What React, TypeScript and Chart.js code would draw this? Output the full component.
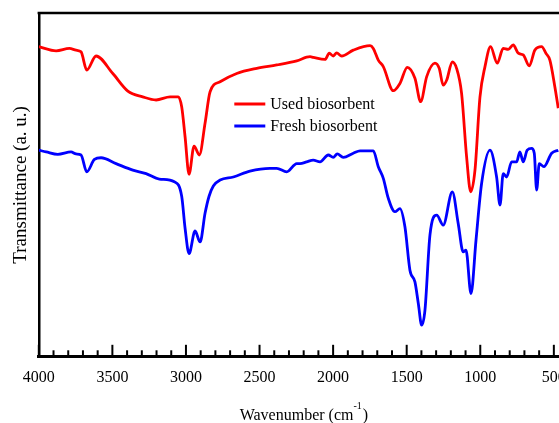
import { useEffect, useRef } from "react";
import { Chart, registerables } from "chart.js";

Chart.register(...registerables);

// FTIR spectrum of the used biosorbent (wavenumber in cm-1, transmittance in a. u.)
const usedWavenumber = [
  4000, 3882, 3792, 3747, 3713, 3674, 3611, 3497, 3395, 3294, 3203, 3108, 3052, 3029, 3006,
  2979, 2945, 2909, 2870, 2836, 2768, 2655, 2519, 2383, 2247, 2157, 2135, 2055, 2026, 1999,
  1976, 1942, 1863, 1749, 1727, 1693, 1659, 1591, 1546, 1496, 1444, 1405, 1364, 1308, 1279,
  1252, 1228, 1190, 1161, 1127, 1093, 1065, 1036, 1002, 968, 930, 885, 844, 810, 776,
  742, 708, 667, 629, 583, 554, 527, 493, 470,
];
const usedTransmittance = [
  90.2, 89.0, 89.7, 89.2, 88.7, 83.4, 87.5, 82.4, 77.3, 75.6, 74.7, 75.6, 75.6, 72.7, 64.0,
  53.1, 61.3, 58.7, 68.0, 77.1, 80.0, 82.4, 83.9, 84.9, 86.1, 87.3, 87.1, 86.5, 88.3, 87.5,
  88.4, 87.5, 89.2, 90.5, 89.7, 86.3, 84.4, 77.4, 79.5, 84.2, 81.0, 74.2, 81.5, 85.4, 83.9,
  79.0, 80.5, 85.8, 83.9, 76.6, 58.2, 48.0, 54.3, 75.6, 84.4, 90.2, 85.4, 89.7, 89.4, 90.7,
  88.3, 87.8, 84.6, 89.2, 90.2, 88.3, 86.3, 78.5, 72.3,
];

// FTIR spectrum of the fresh biosorbent
const freshWavenumber = [
  4000, 3950, 3871, 3781, 3747, 3713, 3674, 3622, 3577, 3475, 3361, 3271, 3181, 3079, 3029,
  3006, 2979, 2938, 2904, 2870, 2843, 2814, 2768, 2678, 2565, 2429, 2383, 2315, 2247, 2225,
  2180, 2135, 2089, 2033, 1999, 1972, 1931, 1863, 1817, 1727, 1693, 1659, 1625, 1580, 1546,
  1512, 1478, 1444, 1421, 1398, 1376, 1342, 1296, 1252, 1190, 1150, 1116, 1097, 1063, 1029,
  991, 934, 889, 866, 844, 821, 787, 753, 731, 708, 681, 651, 633, 617, 599,
  568, 515, 470,
];
const freshTransmittance = [
  60.1, 59.6, 58.9, 59.6, 59.0, 58.7, 53.8, 57.4, 57.9, 56.2, 54.3, 53.3, 51.7, 50.9, 46.7,
  37.4, 30.0, 36.6, 33.4, 41.8, 46.7, 49.7, 51.4, 52.3, 54.0, 54.8, 54.8, 53.8, 56.2, 56.2,
  56.7, 57.2, 56.7, 58.7, 58.0, 59.0, 58.0, 59.2, 59.9, 59.9, 55.3, 51.9, 46.1, 42.2, 43.1,
  37.8, 25.2, 21.8, 15.5, 9.2, 13.5, 35.4, 41.2, 38.3, 48.0, 38.8, 30.5, 31.0, 18.4, 33.9,
  50.4, 60.1, 52.3, 44.1, 53.3, 52.3, 56.7, 56.7, 59.6, 56.7, 60.1, 60.6, 59.2, 48.5, 56.2,
  55.3, 59.2, 60.1,
];

const seriesLabels = ["Used biosorbent", "Fresh biosorbent"];
const seriesColors = ["#ff0000", "#0000ff"];

const xAxisTitle = "Wavenumber (cm";
const xAxisTitleSup = "-1";
const yAxisTitle = "Transmittance (a. u.)";

const xMin = 465;
const xMax = 4000;
const minorStep = 100;
const majorStep = 500;

const SERIF = '"Liberation Serif", "Times New Roman", "DejaVu Serif", serif';

const toPoints = (xs: number[], ys: number[]) => xs.map((x, i) => ({ x, y: ys[i] }));

// Draws the top frame line, inward ticks, x-axis title with superscript and the legend.
const decorations = {
  id: "decorations",
  afterDraw(chart: any) {
    const { ctx, chartArea } = chart;
    const xs = chart.scales.x;
    ctx.save();
    ctx.strokeStyle = "#000";
    ctx.lineCap = "butt";

    // top frame line
    ctx.lineWidth = 2.7;
    ctx.beginPath();
    ctx.moveTo(chartArea.left - 1.2, chartArea.top);
    ctx.lineTo(chart.width, chartArea.top);
    ctx.stroke();

    // inward tick marks on the bottom axis
    ctx.lineWidth = 2;
    for (const t of xs.ticks) {
      const v = Math.round(t.value);
      if (v % minorStep !== 0) continue;
      const px = xs.getPixelForValue(v);
      const len = v % majorStep === 0 ? 12 : 6.5;
      ctx.beginPath();
      ctx.moveTo(px, chartArea.bottom);
      ctx.lineTo(px, chartArea.bottom - len);
      ctx.stroke();
    }

    // x-axis title with superscript
    ctx.fillStyle = "#000";
    ctx.textBaseline = "alphabetic";
    ctx.textAlign = "left";
    const mainFont = `16px ${SERIF}`;
    const supFont = `10px ${SERIF}`;
    ctx.font = mainFont;
    const w1 = ctx.measureText(xAxisTitle).width;
    const w3 = ctx.measureText(")").width;
    ctx.font = supFont;
    const w2 = ctx.measureText(xAxisTitleSup).width;
    const total = w1 + w2 + w3 + 1;
    const cx = (chartArea.left + chartArea.right) / 2 + 5;
    const baseY = chart.height - 3;
    let tx = cx - total / 2;
    ctx.font = mainFont;
    ctx.fillText(xAxisTitle, tx, baseY);
    tx += w1;
    ctx.font = supFont;
    ctx.fillText(xAxisTitleSup, tx, baseY - 11);
    tx += w2 + 1;
    ctx.font = mainFont;
    ctx.fillText(")", tx, baseY);

    // legend
    ctx.font = `16px ${SERIF}`;
    ctx.textBaseline = "middle";
    chart.data.datasets.forEach((ds: any, i: number) => {
      const y = chartArea.top + 91 + i * 22;
      const x0 = chartArea.left + 195.5;
      ctx.strokeStyle = ds.borderColor;
      ctx.lineWidth = 3;
      ctx.beginPath();
      ctx.moveTo(x0, y);
      ctx.lineTo(x0 + 31, y);
      ctx.stroke();
      ctx.fillStyle = "#000";
      ctx.fillText(ds.label, x0 + 36, y + 0.5);
    });

    ctx.restore();
  },
};

export default function App() {
  const canvasRef = useRef<HTMLCanvasElement | null>(null);

  useEffect(() => {
    const canvas = canvasRef.current;
    if (!canvas) return;
    const chart = new Chart(canvas, {
      type: "line",
      data: {
        datasets: [
          {
            label: seriesLabels[0],
            data: toPoints(usedWavenumber, usedTransmittance),
            borderColor: seriesColors[0],
            backgroundColor: seriesColors[0],
            borderWidth: 2.8,
            pointRadius: 0,
            cubicInterpolationMode: "monotone",
            fill: false,
          },
          {
            label: seriesLabels[1],
            data: toPoints(freshWavenumber, freshTransmittance),
            borderColor: seriesColors[1],
            backgroundColor: seriesColors[1],
            borderWidth: 2.8,
            pointRadius: 0,
            cubicInterpolationMode: "monotone",
            fill: false,
          },
        ],
      },
      options: {
        responsive: false,
        animation: false,
        layout: { padding: { top: 13, right: 0, bottom: 25, left: 0 } },
        plugins: {
          legend: { display: false },
          tooltip: { enabled: false },
        },
        scales: {
          x: {
            type: "linear",
            reverse: true,
            min: xMin,
            max: xMax,
            grid: { display: false, drawTicks: false },
            border: { display: true, color: "#000", width: 3 },
            ticks: {
              stepSize: minorStep,
              includeBounds: false,
              autoSkip: false,
              maxRotation: 0,
              padding: 11,
              color: "#000",
              font: { family: SERIF, size: 16 },
              callback: (v: any) => (Math.round(v) % majorStep === 0 ? String(Math.round(v)) : ""),
            },
            afterFit: (s: any) => {
              s.paddingRight = 0;
              s.paddingLeft = 0;
            },
          },
          y: {
            type: "linear",
            min: 0,
            max: 100,
            grid: { display: false, drawTicks: false },
            border: { display: true, color: "#000", width: 2.5 },
            ticks: { display: false },
            title: {
              display: true,
              text: yAxisTitle,
              color: "#000",
              font: { family: SERIF, size: 19 },
              padding: { top: 10, bottom: 6 },
            },
          },
        },
      },
      plugins: [decorations],
    });
    return () => chart.destroy();
  }, []);

  return (
    <canvas
      ref={canvasRef}
      width={559}
      height={423}
      style={{ position: "absolute", left: 0, top: 0, display: "block" }}
    />
  );
}
